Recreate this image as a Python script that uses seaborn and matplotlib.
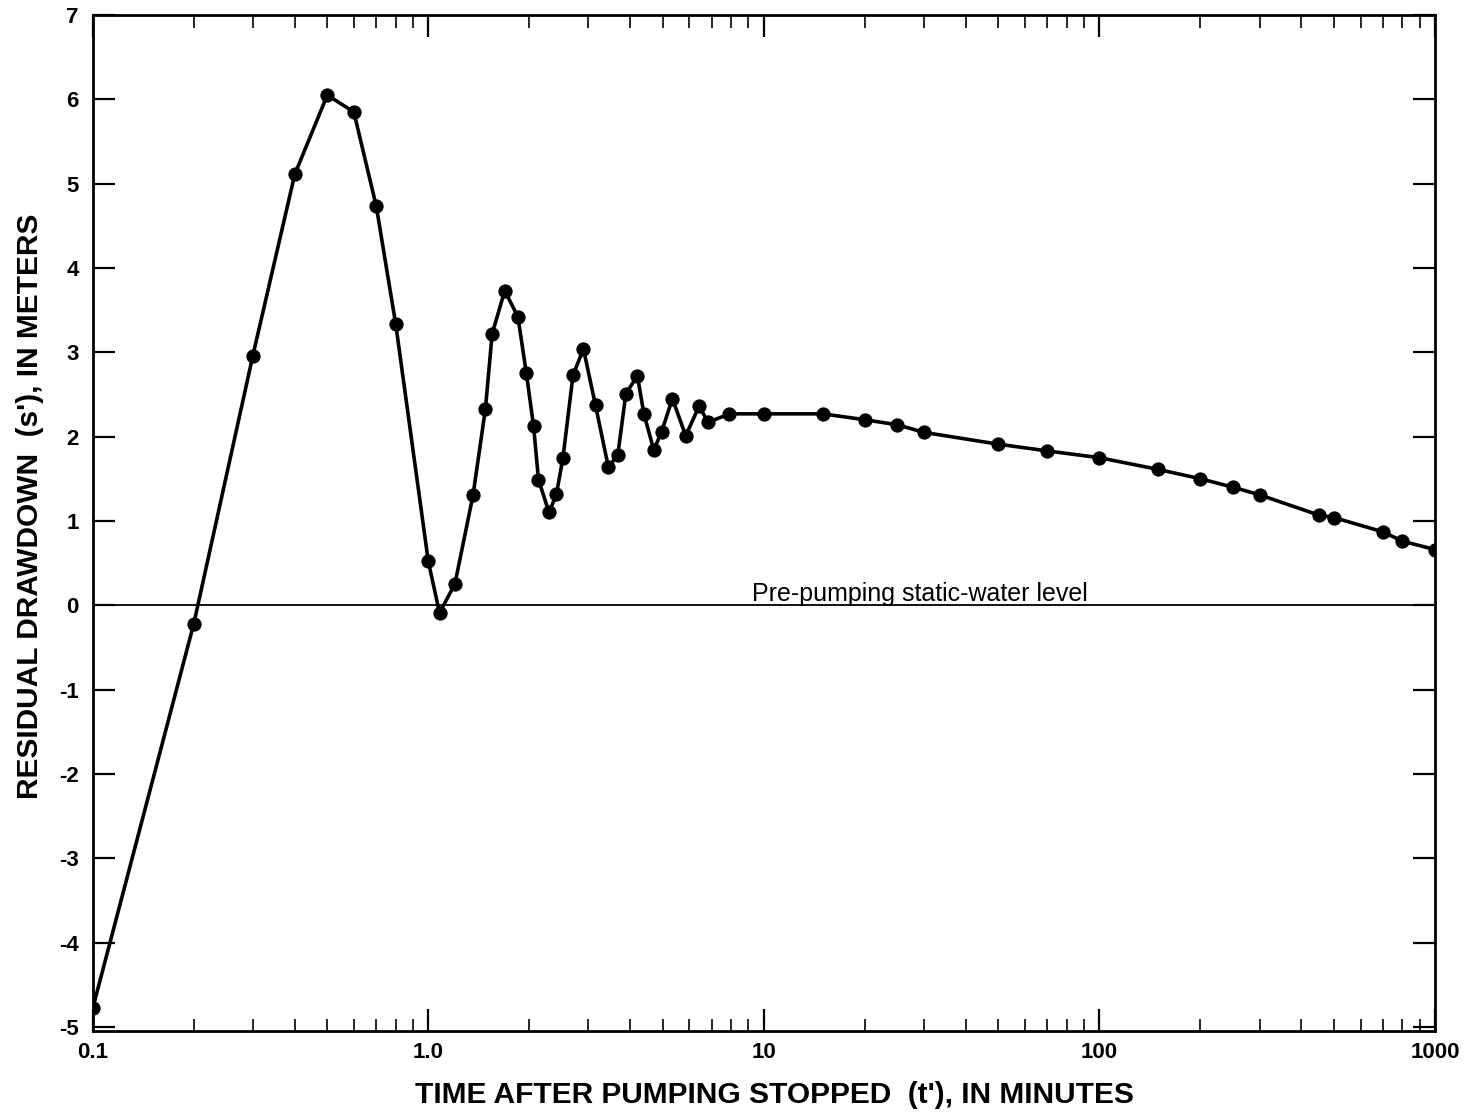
import numpy as np
import pandas as pd
import matplotlib
matplotlib.use("Agg")
import matplotlib.pyplot as plt
from matplotlib.ticker import LogLocator, FixedLocator, FixedFormatter, NullFormatter
import seaborn as sns

# Time after pumping stopped (minutes) and residual drawdown (meters)
time_min = [0.1, 0.2, 0.3, 0.4, 0.5, 0.6, 0.7, 0.8, 1.0, 1.08, 1.2, 1.36,
            1.48, 1.55, 1.69, 1.85, 1.96, 2.06, 2.13, 2.29, 2.41, 2.52,
            2.70, 2.90, 3.15, 3.44, 3.67, 3.88, 4.20, 4.39, 4.70, 4.96,
            5.34, 5.85, 6.41, 6.83, 7.89, 10, 15, 20, 25, 30, 50, 70, 100,
            150, 200, 250, 300, 450, 500, 700, 800, 1000]
drawdown_m = [-4.78, -0.22, 2.96, 5.11, 6.05, 5.85, 4.73, 3.33, 0.52, -0.09,
              0.25, 1.31, 2.33, 3.22, 3.73, 3.42, 2.75, 2.12, 1.49, 1.10,
              1.32, 1.75, 2.73, 3.04, 2.37, 1.64, 1.78, 2.51, 2.72, 2.27,
              1.84, 2.06, 2.45, 2.01, 2.36, 2.17, 2.27, 2.27, 2.27, 2.20,
              2.14, 2.05, 1.91, 1.83, 1.75, 1.61, 1.50, 1.40, 1.31, 1.07,
              1.04, 0.87, 0.76, 0.66]

x_ticks = [0.1, 1, 10, 100, 1000]
x_tick_labels = ["0.1", "1.0", "10", "100", "1000"]
y_ticks = list(range(-5, 8))

df = pd.DataFrame({"t": time_min, "s": drawdown_m})

sns.set_theme(style="ticks")
plt.rcParams["font.family"] = ["Liberation Sans", "DejaVu Sans"]
plt.rcParams["axes.unicode_minus"] = False

fig = plt.figure(figsize=(14.65, 11.12), dpi=100)
ax = fig.add_axes([0.0633, 0.0728, 0.9162, 0.9137])

# Pre-pumping static water level
ax.axhline(0, color="black", lw=1.3, zorder=1)
ax.text(9.2, 0.05, "Pre-pumping static-water level", fontsize=18,
        ha="left", va="baseline", color="black")

sns.lineplot(data=df, x="t", y="s", ax=ax, color="black", lw=2.6,
             marker="o", markersize=9.5, markeredgecolor="black",
             markerfacecolor="black", sort=False, zorder=3)

ax.set_xscale("log")
ax.set_xlim(0.1, 1000)
ax.set_ylim(-5.05, 6.95)

ax.xaxis.set_major_locator(FixedLocator(x_ticks))
ax.xaxis.set_major_formatter(FixedFormatter(x_tick_labels))
ax.xaxis.set_minor_locator(LogLocator(base=10, subs=np.arange(2, 10)))
ax.xaxis.set_minor_formatter(NullFormatter())
ax.set_yticks(y_ticks)
ax.set_yticklabels([str(v) for v in y_ticks])

ax.tick_params(axis="both", which="major", direction="in", length=16,
               width=1.6, colors="black", labelsize=16, top=True, right=True)
ax.tick_params(axis="x", which="minor", direction="in", length=9,
               width=1.4, top=True, bottom=True)
ax.tick_params(axis="y", which="major", pad=10)
ax.tick_params(axis="x", which="major", pad=8)
for lbl in ax.get_xticklabels() + ax.get_yticklabels():
    lbl.set_fontweight("bold")

for sp in ax.spines.values():
    sp.set_linewidth(2.0)
    sp.set_color("black")

ax.set_xlabel("TIME AFTER PUMPING STOPPED  (t'), IN MINUTES", fontsize=21.5,
              fontweight="bold", color="black")
ax.set_ylabel("RESIDUAL DRAWDOWN  (s'), IN METERS", fontsize=21.5,
              fontweight="bold", color="black")
ax.xaxis.set_label_coords(0.508, -0.049)
ax.yaxis.set_label_coords(-0.036, 0.516)
ax.grid(False)

fig.savefig("out.png", dpi=100, facecolor="white")
